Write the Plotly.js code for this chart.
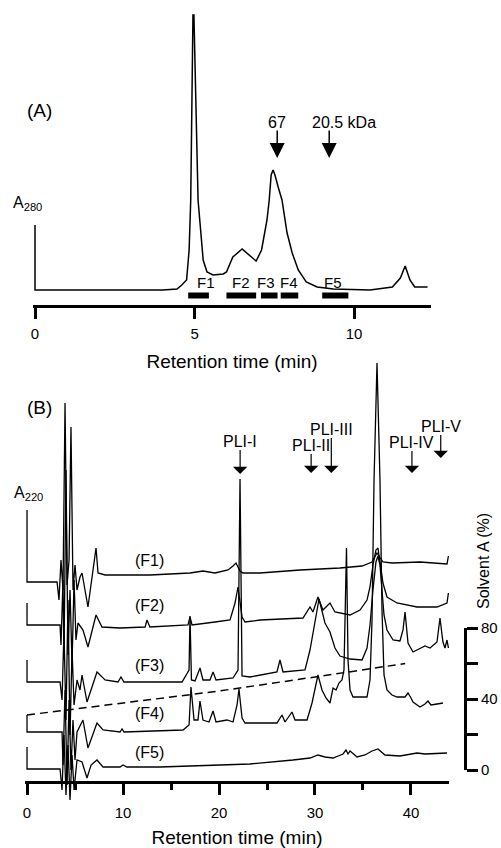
<!DOCTYPE html>
<html><head><meta charset="utf-8">
<script src="https://cdn.plot.ly/plotly-3.0.1.min.js"></script>
<style>html,body{margin:0;padding:0;background:#fff}#chart{width:501px;height:848px}</style>
</head><body><div id="chart"></div>
<script>
// ---------- Panel A: gel filtration (A280) ----------
const gfTime = [0, 0, 2, 4.0, 4.45, 4.6, 4.75, 4.83, 4.88, 4.95, 4.98, 5.11, 5.27, 5.39, 5.58, 5.9, 6.0, 6.2, 6.49, 6.64, 6.93, 7.1, 7.27, 7.34, 7.40, 7.46, 7.52, 7.62, 7.74, 7.9, 8.06, 8.25, 8.5, 8.84, 9.35, 10.5, 11.2, 11.45, 11.6, 11.75, 11.9, 12.3];
const gfA280 = [0.65, 0, 0, 0, 0.01, 0.05, 0.1, 0.4, 0.9, 2.75, 2.75, 0.9, 0.3, 0.18, 0.15, 0.16, 0.18, 0.33, 0.41, 0.37, 0.29, 0.4, 0.7, 0.9, 1.15, 1.2, 1.15, 1.03, 0.9, 0.57, 0.37, 0.2, 0.08, 0.03, 0.01, 0, 0.03, 0.12, 0.24, 0.1, 0.03, 0.03];
const fractionNames = ['F1', 'F2', 'F3', 'F4', 'F5'];
const fractionStart = [4.8, 6.0, 7.08, 7.7, 9.0];
const fractionEnd = [5.45, 6.93, 7.6, 8.25, 9.82];
const mwLabels = ['67', '20.5 kDa'];
const mwTimes = [7.59, 9.22];

// ---------- Panel B: RP-HPLC (A220) of fractions F1-F5 ----------
const f1Time = [0, 0, 3.13, 3.33, 3.54, 3.75, 3.96, 4.17, 4.38, 4.58, 4.79, 5.0, 5.21, 5.52, 5.73, 6.35, 7.19, 7.4, 8.13, 12.8, 16.98, 18.33, 19.58, 20.94, 21.46, 21.77, 22.19, 22.5, 24.27, 28.44, 32.6, 34.9, 35.94, 36.46, 37.08, 38.02, 40.94, 43.75, 43.9];
const f1Abs = [72, 0, 0, -18, 22, -8, 179, -3, 22, 155, -8, 17, -8, 5, 9, -25, 34, 9, 7, 7, 9, 11, 9, 12, 16, 19, 11, 9, 9, 12, 14, 16, 20, 29, 20, 19, 20, 18, 26];

const f2Time = [0, 0, 3.44, 3.54, 3.75, 3.85, 4.06, 4.27, 4.48, 4.69, 4.9, 5.1, 5.31, 5.83, 6.35, 7.19, 7.81, 9.69, 12.3, 12.5, 12.8, 16.77, 16.98, 17.19, 19.58, 21.15, 21.67, 21.98, 22.4, 22.71, 24.27, 28.75, 29.48, 29.79, 30.31, 30.83, 31.56, 32.08, 33.65, 34.69, 35.42, 35.73, 36.04, 36.35, 36.56, 36.77, 37.08, 37.5, 38.54, 40.63, 42.71, 43.75, 43.9];
const f2Abs = [22, 0, 0, -20, 45, -35, 155, -30, 35, -40, 45, -15, 2, -5, -22, 10, -2, -3, -2, 5, -2, 0, 8, 0, 3, 5, 22, 38, 8, 3, 5, 7, 18, 13, 28, 15, 22, 13, 10, 15, 25, 38, 60, 75, 77, 62, 42, 28, 22, 18, 18, 22, 32];

const f3Time = [0, 0, 3.44, 3.65, 3.85, 4.06, 4.27, 4.48, 4.69, 4.9, 5.21, 5.52, 5.73, 6.25, 7.29, 8.13, 9.48, 9.79, 10.1, 16.15, 16.88, 16.98, 17.13, 17.5, 18.02, 18.33, 19.06, 19.38, 19.69, 21.46, 21.98, 22.19, 22.4, 23.23, 26.04, 26.35, 26.67, 28.96, 29.48, 30.0, 30.42, 31.04, 31.56, 32.08, 32.6, 33.65, 34.9, 35.42, 35.73, 36.04, 36.35, 36.56, 36.77, 36.98, 37.19, 37.5, 38.13, 38.85, 39.17, 39.38, 39.69, 40.21, 40.94, 41.46, 41.98, 42.71, 43.02, 43.33, 43.54, 43.75, 43.9];
const f3Abs = [22, 0, 0, -18, 52, -38, 82, -53, 32, -23, 2, -8, 7, -20, 10, 2, 0, 5, 0, 0, 12, 66, 2, 1, 14, 2, 2, 10, 2, 4, 12, 203, 6, 5, 10, 22, 10, 12, 32, 60, 83, 59, 50, 34, 26, 23, 22, 34, 57, 92, 120, 126, 117, 92, 67, 52, 42, 41, 52, 70, 39, 30, 34, 36, 34, 40, 64, 40, 34, 42, 34];

const f4Time = [0, 0, 3.65, 3.75, 3.96, 4.17, 4.38, 4.58, 4.79, 5.0, 5.21, 5.83, 6.35, 7.29, 7.92, 9.69, 9.9, 10.1, 16.25, 16.88, 17.08, 17.4, 17.81, 18.02, 18.33, 18.96, 19.38, 19.69, 20.83, 21.46, 21.88, 22.08, 22.4, 22.71, 26.04, 26.56, 26.88, 27.6, 27.92, 29.17, 29.69, 30.31, 30.73, 31.15, 31.56, 31.88, 32.19, 32.5, 32.81, 33.02, 33.28, 33.44, 33.65, 33.96, 34.9, 35.42, 35.73, 35.94, 36.15, 36.46, 36.77, 36.98, 37.19, 37.5, 38.02, 38.54, 39.38, 39.69, 40.0, 40.21, 40.94, 41.46, 41.77, 42.08, 42.71, 43.33];
const f4Abs = [17, 0, 0, -33, 42, -53, 32, -38, 12, -28, 0, 12, -16, 9, 2, 0, 3, 0, 2, 7, 45, 12, 12, 31, 12, 10, 21, 10, 12, 10, 27, 43, 14, 9, 9, 17, 10, 20, 12, 12, 29, 57, 42, 34, 29, 44, 42, 49, 52, 62, 184, 72, 42, 35, 35, 35, 52, 112, 252, 369, 252, 122, 57, 42, 37, 35, 35, 39, 34, 30, 25, 28, 31, 27, 28, 29];

const f5Time = [0, 0, 3.44, 3.65, 3.85, 4.06, 4.27, 4.48, 4.69, 4.9, 5.1, 5.21, 5.73, 6.25, 6.67, 7.29, 7.92, 9.69, 10.0, 10.4, 13.85, 18.02, 23.23, 27.7, 29.48, 30.31, 31.04, 31.88, 32.92, 33.23, 33.44, 33.65, 34.38, 35.2, 35.94, 36.56, 37.29, 38.85, 40.63, 41.46, 43.75];
const f5Abs = [22, 0, 0, -21, 34, -26, 24, -31, 14, -21, -1, 9, 7, -9, 4, 9, 2, 2, 4, 2, 2, 3, 5, 9, 11, 14, 12, 11, 15, 19, 15, 18, 12, 14, 18, 20, 14, 13, 16, 15, 16];

const traceNames = ['(F1)', '(F2)', '(F3)', '(F4)', '(F5)'];
const solventTime = [0, 10, 20, 30, 39.4];
const solventA = [31, 37.7, 44.5, 52.4, 60];
const pliLabels = ['PLI-I', 'PLI-II', 'PLI-III', 'PLI-IV', 'PLI-V'];
const pliTimes = [22.2, 29.6, 31.7, 40.1, 43.1];

// ---------- layout helpers (positions / styles) ----------
const W = 501, H = 848;
const FONT = 'Liberation Sans, Arial, Helvetica, sans-serif';
const px = v => v / W;
const py = v => (H - v) / H;
const stackOffset = [200, 157, 100, 50, 13];   // vertical stacking of chromatograms
const LINE = {color: '#000', width: 1.3};

const data = [];
data.push({x: gfTime, y: gfA280, xaxis: 'x', yaxis: 'y', mode: 'lines', line: {color: '#000', width: 1.5}});
fractionNames.forEach((n, i) => {
  data.push({x: [fractionStart[i], fractionEnd[i]], y: [-0.055, -0.055], xaxis: 'x', yaxis: 'y',
             mode: 'lines', line: {color: '#000', width: 6}});
});
const bT = [f1Time, f2Time, f3Time, f4Time, f5Time];
const bA = [f1Abs, f2Abs, f3Abs, f4Abs, f5Abs];
bT.forEach((t, i) => {
  data.push({x: t, y: bA[i].map(v => v + stackOffset[i]), xaxis: 'x2', yaxis: 'y2',
             mode: 'lines', line: LINE});
});
data.push({x: solventTime, y: solventA, xaxis: 'x2', yaxis: 'y3', mode: 'lines',
           line: {color: '#000', width: 1.5, dash: '8px,5px'}});

const ann = [];
const P = (x, y, text, size, extra) => Object.assign({xref: 'paper', yref: 'paper', x: px(x), y: py(y), text: text,
  showarrow: false, xanchor: 'center', yanchor: 'middle', font: {size: size}}, extra || {});
ann.push(P(39, 110, '(A)', 19));
ann.push(P(39, 407, '(B)', 19));
ann.push(P(11, 203, 'A<sub>280</sub>', 16, {xanchor: 'left'}));
ann.push(P(12, 494, 'A<sub>220</sub>', 16, {xanchor: 'left'}));
ann.push(P(483, 561, 'Solvent A (%)', 16, {textangle: -90}));
// fraction labels
const fShift = [7, 0, -3, 0, -2];
fractionNames.forEach((n, i) => {
  ann.push({xref: 'x', yref: 'y', x: (fractionStart[i] + fractionEnd[i]) / 2, y: 0.08, xshift: fShift[i],
            text: n, showarrow: false, font: {size: 15}});
});
// MW marker arrows and labels
const mwShift = [0, 15];
mwTimes.forEach((t, i) => {
  ann.push({xref: 'x', yref: 'y', x: t, y: 1.32, ax: 0, ay: -28, text: '', showarrow: true,
            arrowhead: 2, arrowsize: 2, arrowwidth: 1.5, arrowcolor: '#000', font: {size: 1}, borderpad: 0});
  ann.push({xref: 'x', yref: 'y', x: t, y: 1.68, xshift: mwShift[i], text: mwLabels[i], showarrow: false, font: {size: 16}});
});
// chromatogram names
const nameLevel = [222, 177, 117, 69, 30];
traceNames.forEach((n, i) => {
  ann.push({xref: 'x2', yref: 'y2', x: 12.8, y: nameLevel[i], text: n, showarrow: false, font: {size: 16}});
});
// PLI arrows (label + arrow)
const pliTip = [308, 309, 309, 309, 324];
const pliTail = [-33, -28, -44, -31, -32];
pliTimes.forEach((t, i) => {
  ann.push({xref: 'x2', yref: 'y2', x: t, y: pliTip[i], ax: 0, ay: pliTail[i], text: pliLabels[i], showarrow: true,
            arrowhead: 1, arrowsize: 2, arrowwidth: 1.2, arrowcolor: '#000', font: {size: 16}, borderpad: 0});
});

const axCommon = {showline: true, linewidth: 3, linecolor: '#000', ticks: 'outside', tickwidth: 3, tickcolor: '#000',
                  showgrid: false, zeroline: false, automargin: false, tickfont: {size: 15}};
const layout = {
  width: W, height: H, margin: {l: 0, r: 0, t: 0, b: 0, autoexpand: false}, showlegend: false,
  paper_bgcolor: '#fff', plot_bgcolor: 'rgba(0,0,0,0)', hovermode: false,
  font: {family: FONT, color: '#000', size: 15},
  xaxis: Object.assign({}, axCommon, {domain: [px(33), px(431)], range: [-0.063, 12.41], anchor: 'y',
          ticklen: 11, ticklabelstandoff: 2, tickvals: [0, 5, 10],
          title: {text: 'Retention time (min)', font: {size: 19}, standoff: 14}}),
  yaxis: {domain: [py(305), py(10)], range: [-0.15, 2.8], visible: false},
  xaxis2: Object.assign({}, axCommon, {domain: [px(25), px(449)], range: [-0.21, 43.96], anchor: 'free', position: py(782),
          ticklen: 11, ticklabelstandoff: 5, tickvals: [0, 10, 20, 30, 40],
          minor: {tickvals: [5, 15, 25, 35], ticks: 'outside', ticklen: 6, tickwidth: 3, tickcolor: '#000', showgrid: false},
          title: {text: 'Retention time (min)', font: {size: 19}, standoff: 14}}),
  yaxis2: {domain: [py(800), py(355)], range: [-18, 427], visible: false},
  yaxis3: Object.assign({}, axCommon, {domain: [py(770), py(628)], range: [0, 80], anchor: 'free', position: px(465), side: 'right',
          ticklen: 11, tickvals: [0, 40, 80],
          minor: {tickvals: [20, 60], ticks: 'outside', ticklen: 11, tickwidth: 3, tickcolor: '#000', showgrid: false}}),
  annotations: ann
};
Plotly.newPlot('chart', data, layout, {staticPlot: true, displayModeBar: false});
</script></body></html>
